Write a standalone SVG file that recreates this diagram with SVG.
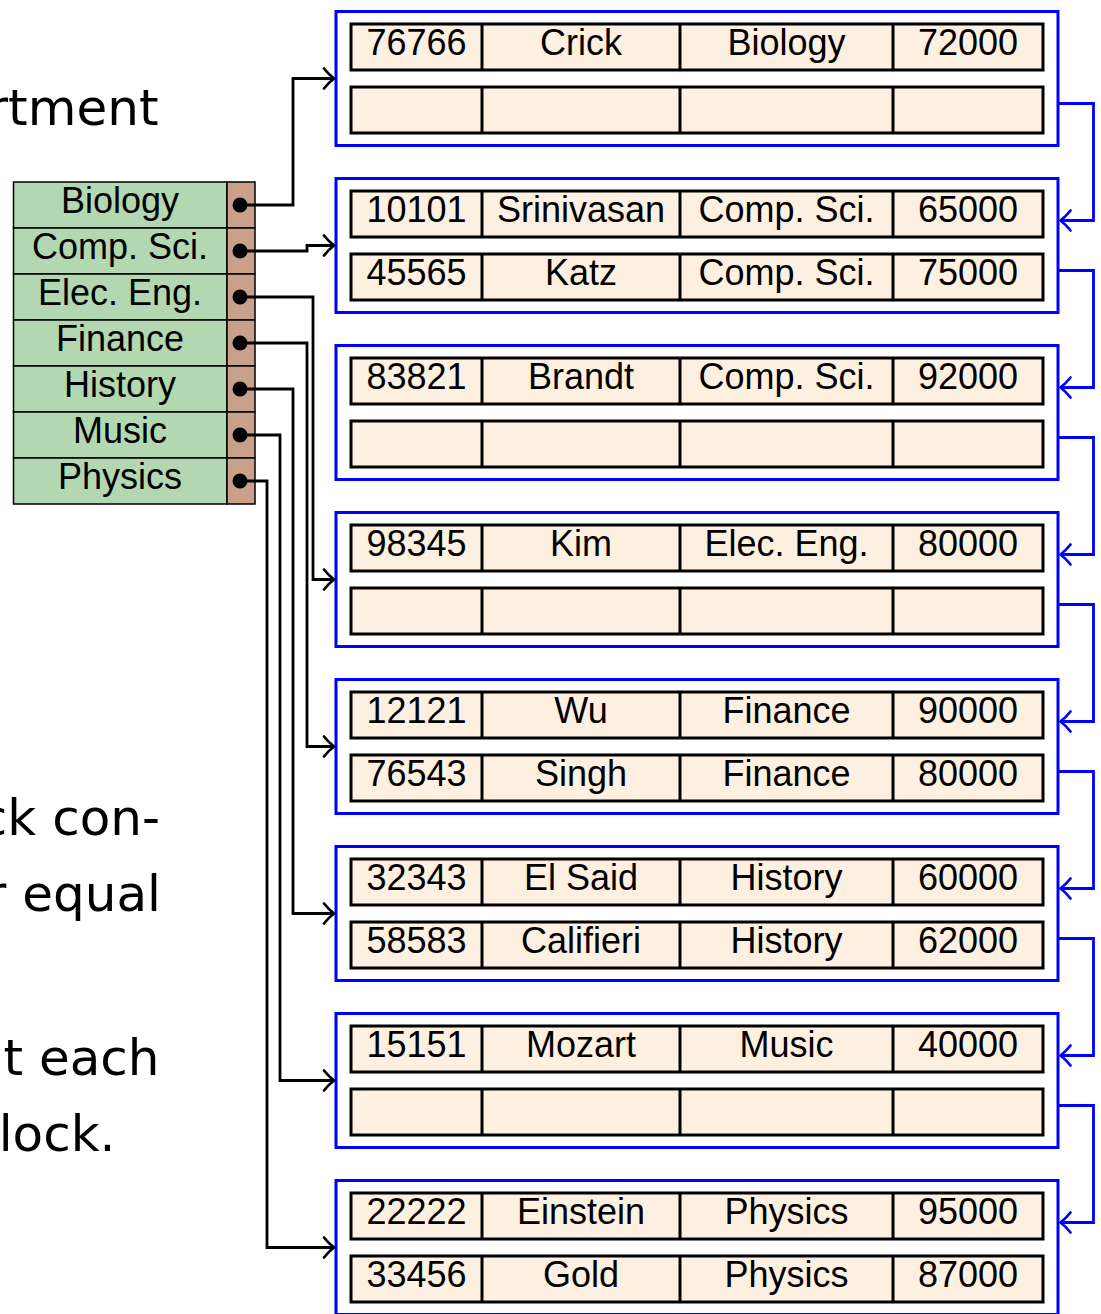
<svg xmlns="http://www.w3.org/2000/svg" xmlns:xlink="http://www.w3.org/1999/xlink" width="1101" height="1314" viewBox="0 0 1101 1314">
<style>
text{font-family:"Liberation Sans",Arial,sans-serif;fill:#000}
.big{font-family:"DejaVu Sans",sans-serif;font-size:50px;text-anchor:end}
.cell{font-size:36px;text-anchor:middle}
.idx{font-size:36px;text-anchor:middle}
.blk{fill:#fff;stroke:#0000ff;stroke-width:3}
.rowr{fill:#fdf0e0;stroke:#000;stroke-width:3}
.div{stroke:#000;stroke-width:3}
.grn{fill:#b3d8b1;stroke:#000;stroke-width:1.5}
.brn{fill:#c9a08a;stroke:#000;stroke-width:1.5}
.ptr{fill:none;stroke:#000;stroke-width:2.8}
.nxt{fill:none;stroke:#0000ff;stroke-width:2.8}
</style>
<defs>
<g id="row">
<rect class="rowr" x="351" y="0" width="692" height="46"/>
<line class="div" x1="482" y1="0" x2="482" y2="46"/>
<line class="div" x1="680" y1="0" x2="680" y2="46"/>
<line class="div" x1="893" y1="0" x2="893" y2="46"/>
</g>
<marker id="ab" markerUnits="userSpaceOnUse" viewBox="-12 -12 14 24" refX="0" refY="0" markerWidth="14" markerHeight="24" orient="auto" overflow="visible">
<path d="M-10,-10 C-6,-5 -2,-1.5 0,0 C-2,1.5 -6,5 -10,10" fill="none" stroke="#000" stroke-width="2.8" stroke-linecap="round"/>
</marker>
<marker id="abl" markerUnits="userSpaceOnUse" viewBox="-12 -12 14 24" refX="0" refY="0" markerWidth="14" markerHeight="24" orient="auto" overflow="visible">
<path d="M-10,-10 C-6,-5 -2,-1.5 0,0 C-2,1.5 -6,5 -10,10" fill="none" stroke="#0000ff" stroke-width="2.8" stroke-linecap="round"/>
</marker>
</defs>

<g id="text-left">
<text class="big" x="158.5" y="125">rtment</text>
<text class="big" x="160" y="835">ck con-</text>
<text class="big" x="161" y="911">r equal</text>
<text class="big" x="159.5" y="1075">t each</text>
<text class="big" x="115.5" y="1151">lock.</text>
</g>

<g id="index">
<g id="idx-biology"><rect class="grn" x="13.5" y="182" width="213.5" height="46"/><rect class="brn" x="227" y="182" width="28" height="46"/><text class="idx" x="120" y="213">Biology</text><circle cx="240" cy="205" r="7.5"/></g>
<g id="idx-compsci"><rect class="grn" x="13.5" y="228" width="213.5" height="46"/><rect class="brn" x="227" y="228" width="28" height="46"/><text class="idx" x="120" y="259">Comp. Sci.</text><circle cx="240" cy="251" r="7.5"/></g>
<g id="idx-eleceng"><rect class="grn" x="13.5" y="274" width="213.5" height="46"/><rect class="brn" x="227" y="274" width="28" height="46"/><text class="idx" x="120" y="305">Elec. Eng.</text><circle cx="240" cy="297" r="7.5"/></g>
<g id="idx-finance"><rect class="grn" x="13.5" y="320" width="213.5" height="46"/><rect class="brn" x="227" y="320" width="28" height="46"/><text class="idx" x="120" y="351">Finance</text><circle cx="240" cy="343" r="7.5"/></g>
<g id="idx-history"><rect class="grn" x="13.5" y="366" width="213.5" height="46"/><rect class="brn" x="227" y="366" width="28" height="46"/><text class="idx" x="120" y="397">History</text><circle cx="240" cy="389" r="7.5"/></g>
<g id="idx-music"><rect class="grn" x="13.5" y="412" width="213.5" height="46"/><rect class="brn" x="227" y="412" width="28" height="46"/><text class="idx" x="120" y="443">Music</text><circle cx="240" cy="435" r="7.5"/></g>
<g id="idx-physics"><rect class="grn" x="13.5" y="458" width="213.5" height="46"/><rect class="brn" x="227" y="458" width="28" height="46"/><text class="idx" x="120" y="489">Physics</text><circle cx="240" cy="481" r="7.5"/></g>
</g>

<g id="block1">
<rect class="blk" x="336" y="11.5" width="722" height="134"/>
<use xlink:href="#row" href="#row" y="24"/><use xlink:href="#row" href="#row" y="87"/>
<text class="cell" x="416.5" y="55">76766</text><text class="cell" x="581" y="55">Crick</text><text class="cell" x="786.5" y="55">Biology</text><text class="cell" x="968" y="55">72000</text>
</g>
<g id="block2">
<rect class="blk" x="336" y="178.5" width="722" height="134"/>
<use xlink:href="#row" href="#row" y="191"/><use xlink:href="#row" href="#row" y="254"/>
<text class="cell" x="416.5" y="222">10101</text><text class="cell" x="581" y="222">Srinivasan</text><text class="cell" x="786.5" y="222">Comp. Sci.</text><text class="cell" x="968" y="222">65000</text>
<text class="cell" x="416.5" y="285">45565</text><text class="cell" x="581" y="285">Katz</text><text class="cell" x="786.5" y="285">Comp. Sci.</text><text class="cell" x="968" y="285">75000</text>
</g>
<g id="block3">
<rect class="blk" x="336" y="345.5" width="722" height="134"/>
<use xlink:href="#row" href="#row" y="358"/><use xlink:href="#row" href="#row" y="421"/>
<text class="cell" x="416.5" y="389">83821</text><text class="cell" x="581" y="389">Brandt</text><text class="cell" x="786.5" y="389">Comp. Sci.</text><text class="cell" x="968" y="389">92000</text>
</g>
<g id="block4">
<rect class="blk" x="336" y="512.5" width="722" height="134"/>
<use xlink:href="#row" href="#row" y="525"/><use xlink:href="#row" href="#row" y="588"/>
<text class="cell" x="416.5" y="556">98345</text><text class="cell" x="581" y="556">Kim</text><text class="cell" x="786.5" y="556">Elec. Eng.</text><text class="cell" x="968" y="556">80000</text>
</g>
<g id="block5">
<rect class="blk" x="336" y="679.5" width="722" height="134"/>
<use xlink:href="#row" href="#row" y="692"/><use xlink:href="#row" href="#row" y="755"/>
<text class="cell" x="416.5" y="723">12121</text><text class="cell" x="581" y="723">Wu</text><text class="cell" x="786.5" y="723">Finance</text><text class="cell" x="968" y="723">90000</text>
<text class="cell" x="416.5" y="786">76543</text><text class="cell" x="581" y="786">Singh</text><text class="cell" x="786.5" y="786">Finance</text><text class="cell" x="968" y="786">80000</text>
</g>
<g id="block6">
<rect class="blk" x="336" y="846.5" width="722" height="134"/>
<use xlink:href="#row" href="#row" y="859"/><use xlink:href="#row" href="#row" y="922"/>
<text class="cell" x="416.5" y="890">32343</text><text class="cell" x="581" y="890">El Said</text><text class="cell" x="786.5" y="890">History</text><text class="cell" x="968" y="890">60000</text>
<text class="cell" x="416.5" y="953">58583</text><text class="cell" x="581" y="953">Califieri</text><text class="cell" x="786.5" y="953">History</text><text class="cell" x="968" y="953">62000</text>
</g>
<g id="block7">
<rect class="blk" x="336" y="1013.5" width="722" height="134"/>
<use xlink:href="#row" href="#row" y="1026"/><use xlink:href="#row" href="#row" y="1089"/>
<text class="cell" x="416.5" y="1057">15151</text><text class="cell" x="581" y="1057">Mozart</text><text class="cell" x="786.5" y="1057">Music</text><text class="cell" x="968" y="1057">40000</text>
</g>
<g id="block8">
<rect class="blk" x="336" y="1180.5" width="722" height="134"/>
<use xlink:href="#row" href="#row" y="1193"/><use xlink:href="#row" href="#row" y="1256"/>
<text class="cell" x="416.5" y="1224">22222</text><text class="cell" x="581" y="1224">Einstein</text><text class="cell" x="786.5" y="1224">Physics</text><text class="cell" x="968" y="1224">95000</text>
<text class="cell" x="416.5" y="1287">33456</text><text class="cell" x="581" y="1287">Gold</text><text class="cell" x="786.5" y="1287">Physics</text><text class="cell" x="968" y="1287">87000</text>
</g>

<g id="connectors">
<path class="ptr" marker-end="url(#ab)" d="M240,205 H293 V78.5 H334"/>
<path class="ptr" marker-end="url(#ab)" d="M240,251 H307 V245.5 H334"/>
<path class="ptr" marker-end="url(#ab)" d="M240,297 H313 V579.5 H334"/>
<path class="ptr" marker-end="url(#ab)" d="M240,343 H307 V746.5 H334"/>
<path class="ptr" marker-end="url(#ab)" d="M240,389 H293 V913.5 H334"/>
<path class="ptr" marker-end="url(#ab)" d="M240,435 H280 V1080.5 H334"/>
<path class="ptr" marker-end="url(#ab)" d="M240,481 H267 V1247.5 H334"/>
<path class="nxt" marker-end="url(#abl)" d="M1058,103.5 H1093.5 V220.5 H1060.5"/>
<path class="nxt" marker-end="url(#abl)" d="M1058,270.5 H1093.5 V387.5 H1060.5"/>
<path class="nxt" marker-end="url(#abl)" d="M1058,437.5 H1093.5 V554.5 H1060.5"/>
<path class="nxt" marker-end="url(#abl)" d="M1058,604.5 H1093.5 V721.5 H1060.5"/>
<path class="nxt" marker-end="url(#abl)" d="M1058,771.5 H1093.5 V888.5 H1060.5"/>
<path class="nxt" marker-end="url(#abl)" d="M1058,938.5 H1093.5 V1055.5 H1060.5"/>
<path class="nxt" marker-end="url(#abl)" d="M1058,1105.5 H1093.5 V1222.5 H1060.5"/>
</g>
</svg>
